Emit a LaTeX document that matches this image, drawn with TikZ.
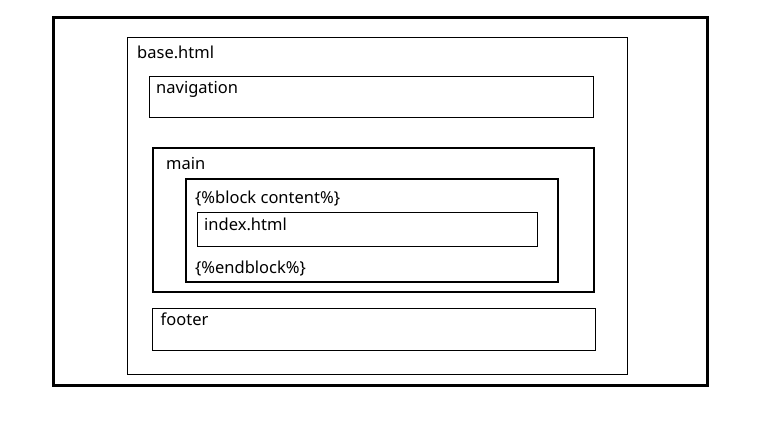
\documentclass[tikz,border=0pt]{standalone}
\usepackage{fontspec}
\setmainfont{Noto Sans}

\begin{document}
\begin{tikzpicture}[x=1pt, y=-1pt,
    lbl/.style={anchor=base west, inner sep=0pt, font=\fontsize{16.5}{19}\selectfont}]
    \useasboundingbox (0,0) rectangle (760,428);

    % frames
    \draw[line width=3pt] (53.5,17.5) rectangle (707,385.5);
    \draw[line width=.9pt] (127,37) rectangle (627,374);
    \draw[line width=.9pt] (149,76) rectangle (593,117);
    \draw[line width=2pt] (153,147.5) rectangle (593.5,292);
    \draw[line width=2pt] (186,178.5) rectangle (558,281.5);
    \draw[line width=.9pt] (197,212) rectangle (537.5,246);
    \draw[line width=.9pt] (152.5,308) rectangle (595.5,350);

\node (base) at (137,59) [lbl] {base.html};
\node (nav) at (156,93) [lbl] {navigation};
\node (main) at (166,169) [lbl] {main};
\node (blockstart) at (195,203) [lbl] {\{\%block content\%\}};
\node (index) at (204,230) [lbl] {index.html};
\node (blockend) at (195,273) [lbl] {\{\%endblock\%\}};
\node (footer) at (160.5,325) [lbl] {footer};
\end{tikzpicture}
\end{document}
